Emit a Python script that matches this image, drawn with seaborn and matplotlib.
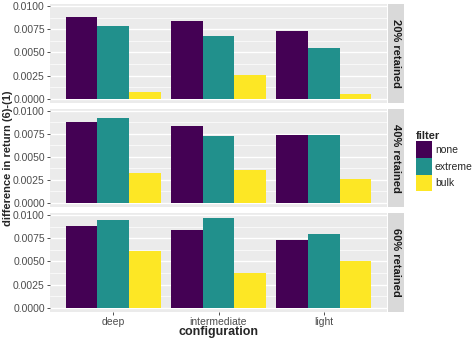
import pandas as pd
import matplotlib.pyplot as plt
import seaborn as sns
from matplotlib.patches import Patch

configurations = ["deep", "intermediate", "light"]
filters = ["none", "extreme", "bulk"]
retained = ["20% retained", "40% retained", "60% retained"]

# difference in return per retained level, rows = configuration, cols = filter
diff_20 = [[0.00885, 0.00784, 0.00072],
           [0.00840, 0.00680, 0.00256],
           [0.00730, 0.00550, 0.00050]]
diff_40 = [[0.00878, 0.00921, 0.00324],
           [0.00840, 0.00723, 0.00353],
           [0.00738, 0.00738, 0.00259]]
diff_60 = [[0.00879, 0.00948, 0.00614],
           [0.00836, 0.00972, 0.00370],
           [0.00732, 0.00793, 0.00507]]

colors = ["#440154", "#21908C", "#FDE725"]

rows = []
for lab, tab in zip(retained, [diff_20, diff_40, diff_60]):
    for c, vals in zip(configurations, tab):
        for f, v in zip(filters, vals):
            rows.append({"retained": lab, "configuration": c, "filter": f, "diff": v})
df = pd.DataFrame(rows)

sns.set_style("white")
plt.rcParams["font.family"] = ["Liberation Sans", "DejaVu Sans"]

W, H = 474, 338
fig = plt.figure(figsize=(W / 100, H / 100), dpi=100)

left, right = 50, 387
panels = [(4, 103), (109, 207), (213, 312)]
ymax = df["diff"].max() * 1.05
ymin = -0.00046

for i, (lab, (top, bot)) in enumerate(zip(retained, panels)):
    ax = fig.add_axes([left / W, 1 - bot / H, (right - left) / W, (bot - top) / H])
    sub = df[df["retained"] == lab]
    ax.set_facecolor("#EBEBEB")
    ax.set_axisbelow(True)
    for yv in [0.00125, 0.00375, 0.00625, 0.00875]:
        ax.axhline(yv, color="white", lw=0.5, zorder=0)
    ax.grid(True, color="white", lw=1.0, zorder=0)
    sns.barplot(data=sub, x="configuration", y="diff", hue="filter",
                order=configurations, hue_order=filters, palette=colors,
                width=0.9, gap=0, saturation=1, linewidth=0, legend=False,
                errorbar=None, ax=ax)
    ax.set_xlim(-0.6, 2.6)
    ax.set_ylim(ymin, ymax)
    ax.set_yticks([0, 0.0025, 0.005, 0.0075, 0.01])
    ax.set_yticklabels(["0.0000", "0.0025", "0.0050", "0.0075", "0.0100"])
    for s in ax.spines.values():
        s.set_visible(False)
    ax.tick_params(axis="both", length=2.5, width=0.6, color="#333333",
                   labelsize=7.5, labelcolor="#4D4D4D", pad=1.2, left=True, bottom=True)
    ax.tick_params(axis="x", pad=0.8)
    ax.set_ylabel("")
    ax.set_xlabel("")
    if i < 2:
        ax.tick_params(axis="x", labelbottom=False, bottom=False)

    strip = fig.add_axes([(right + 1) / W, 1 - bot / H, 15.5 / W, (bot - top) / H])
    strip.set_facecolor("#D9D9D9")
    strip.set_xticks([])
    strip.set_yticks([])
    for s in strip.spines.values():
        s.set_visible(False)
    strip.text(0.5, 0.5, lab, rotation=-90, ha="center", va="center",
               fontsize=8, fontweight="bold", color="#1A1A1A",
               transform=strip.transAxes)

fig.text(8 / W, 1 - 158 / H, "difference in return (6)-(1)", rotation=90,
         ha="center", va="center", fontsize=8, fontweight="bold")
fig.text((left + right) / 2 / W, 1 - 332.5 / H, "configuration",
         ha="center", va="center", fontsize=9, fontweight="bold")

handles = [Patch(facecolor=c, edgecolor="none", label=f) for c, f in zip(colors, filters)]
leg = fig.legend(handles=handles, title="filter", loc="upper left",
                 bbox_to_anchor=(412 / W, 1 - 127 / H), frameon=False,
                 fontsize=7.5, title_fontproperties={"weight": "bold", "size": 8},
                 handlelength=1.5, handleheight=2.1, handletextpad=0.3,
                 labelspacing=0.0, borderaxespad=0)
leg._legend_box.align = "left"

fig.savefig("out.png", dpi=100)
